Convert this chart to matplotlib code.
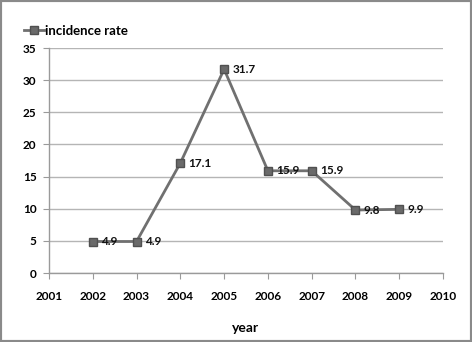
import matplotlib
matplotlib.use("Agg")
import matplotlib.pyplot as plt
from matplotlib.patches import Rectangle

years = [2002, 2003, 2004, 2005, 2006, 2007, 2008, 2009]
rates = [4.9, 4.9, 17.1, 31.7, 15.9, 15.9, 9.8, 9.9]
labels = ["4.9", "4.9", "17.1", "31.7", "15.9", "15.9", "9.8", "9.9"]
xticks = list(range(2001, 2011))
yticks = [0, 5, 10, 15, 20, 25, 30, 35]

plt.rcParams['font.family'] = ['Lato', 'DejaVu Sans']

fig = plt.figure(figsize=(4.72, 3.42), dpi=100)
ax = fig.add_axes([49/472, 1-273/342, (443-49)/472, (273-48)/342])

line_c = '#707070'
ax.plot(years, rates, color=line_c, lw=2, marker='s', ms=5.5,
        mfc='#6a6a6a', mec='#505050', mew=1, label='incidence rate', zorder=3)
for x, y, t in zip(years, rates, labels):
    ax.annotate(t, (x, y), xytext=(6, 0), textcoords='offset points',
                va='center', ha='left', fontsize=8.5, fontweight='bold', color='#111111')

ax.set_xlim(2001, 2010)
ax.set_ylim(0, 35)
ax.set_xticks(xticks)
ax.set_yticks(yticks)
ax.set_xticklabels([str(v) for v in xticks], fontsize=8.5, fontweight='bold')
ax.set_yticklabels([str(v) for v in yticks], fontsize=8.5, fontweight='bold')
ax.yaxis.grid(True, color='#b5b5b5', lw=1)
ax.set_axisbelow(True)
for s in ['top', 'right']:
    ax.spines[s].set_visible(False)
for s in ['left', 'bottom']:
    ax.spines[s].set_color('#9a9a9a')
    ax.spines[s].set_linewidth(1)
ax.tick_params(axis='x', direction='out', length=4, color='#9a9a9a', pad=9)
ax.tick_params(axis='y', direction='out', length=4, color='#9a9a9a', pad=5)
ax.set_xlabel('year', fontsize=10, fontweight='bold', labelpad=14)

leg = fig.legend(loc='upper left', bbox_to_anchor=(12/472, 1-13/342), frameon=False,
                 handlelength=1.5, handletextpad=0.1,
                 prop={'weight': 'bold', 'size': 9.5})

fig.patches.append(Rectangle((0, 0), 1, 1, transform=fig.transFigure, fill=False,
                             edgecolor='#8a8a8a', lw=3))
fig.savefig('out.png', dpi=100)
